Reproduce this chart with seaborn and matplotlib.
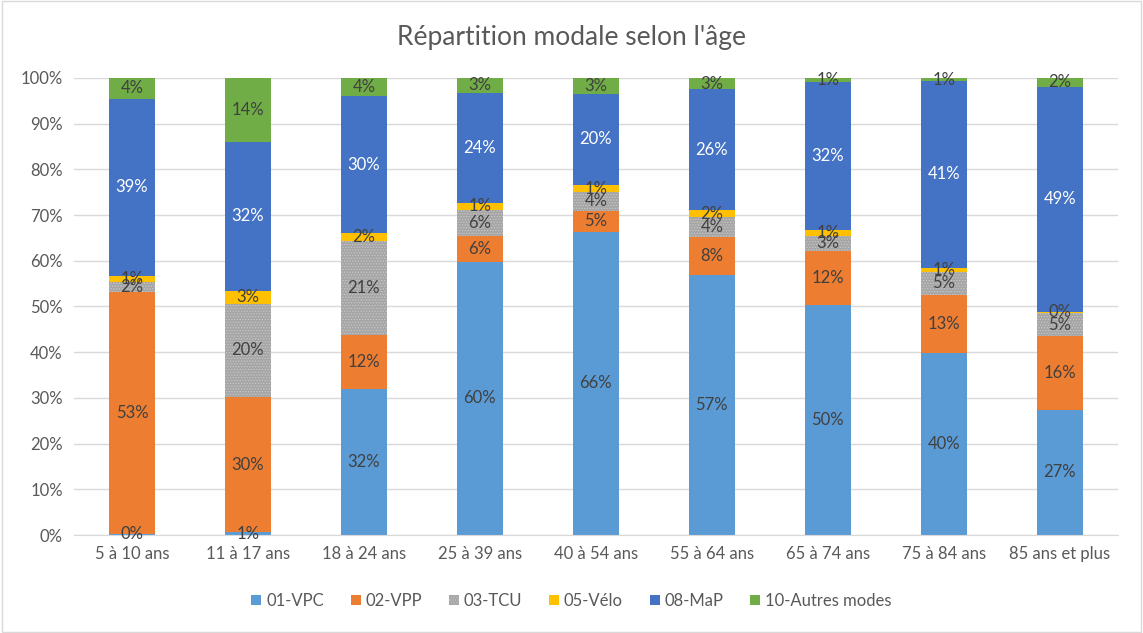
import numpy as np
import pandas as pd
import matplotlib
matplotlib.use("Agg")
import matplotlib.pyplot as plt
from matplotlib.patches import Rectangle
from matplotlib.ticker import PercentFormatter
import seaborn as sns

sns.set_style("white")
plt.rcParams["font.family"] = ["Lato", "DejaVu Sans"]
plt.rcParams["hatch.linewidth"] = 0.6

ages = ["5 à 10 ans", "11 à 17 ans", "18 à 24 ans", "25 à 39 ans", "40 à 54 ans",
        "55 à 64 ans", "65 à 74 ans", "75 à 84 ans", "85 ans et plus"]

vpc = [0.3, 0.6, 31.9, 59.8, 66.4, 57.0, 50.4, 39.8, 27.4]
vpp = [52.9, 29.6, 11.8, 5.7, 4.6, 8.3, 11.8, 12.8, 16.2]
tcu = [2.2, 20.4, 20.6, 5.7, 4.1, 4.2, 3.3, 4.9, 4.9]
velo = [1.2, 2.9, 1.8, 1.4, 1.4, 1.6, 1.3, 1.0, 0.4]
map_ = [38.9, 32.4, 29.9, 24.2, 20.1, 26.4, 32.3, 40.8, 49.2]
autres = [4.4, 14.1, 4.0, 3.2, 3.4, 2.6, 0.9, 0.7, 1.9]

modes = ["01-VPC", "02-VPP", "03-TCU", "05-Vélo", "08-MaP", "10-Autres modes"]
colors = ["#5B9BD5", "#ED7D31", "#A5A5A5", "#FFC000", "#4472C4", "#70AD47"]

df = pd.DataFrame({"age": ages, modes[0]: vpc, modes[1]: vpp, modes[2]: tcu,
                   modes[3]: velo, modes[4]: map_, modes[5]: autres})

fig = plt.figure(figsize=(11.43, 6.33), dpi=100)
ax = fig.add_axes([0.0647, 0.1548, 0.9133, 0.722])

bottom = np.zeros(len(ages))
for mode, col in zip(modes, colors):
    vals = df[mode].to_numpy()
    sns.barplot(x=df["age"], y=vals, bottom=bottom, color=col, saturation=1,
                width=0.4, label=mode, ax=ax, linewidth=0)
    cont = ax.containers[-1]
    if mode == "03-TCU":
        for b in cont:
            b.set_hatch("......")
            b.set_edgecolor("#C8C8C8")
            b.set_linewidth(0)
    txtcol = "white" if mode == "08-MaP" else "#404040"
    ax.bar_label(cont, labels=[f"{v:.0f}%" for v in vals], label_type="center",
                 color=txtcol, fontsize=12)
    bottom += vals

if ax.get_legend() is not None:
    ax.get_legend().remove()

ax.set_ylim(0, 100)
ax.set_xlim(-0.5, len(ages) - 0.5)
ax.set_yticks(np.arange(0, 101, 10))
ax.yaxis.set_major_formatter(PercentFormatter(decimals=0))
ax.grid(axis="y", color="#D9D9D9", linewidth=1)
ax.set_axisbelow(True)
for s in ["top", "right", "left"]:
    ax.spines[s].set_visible(False)
ax.spines["bottom"].set_color("#D9D9D9")
ax.tick_params(axis="both", length=0, labelsize=12, labelcolor="#595959", pad=8)
ax.set_xlabel("")
ax.set_ylabel("")

handles, labels = ax.get_legend_handles_labels()
leg = fig.legend(handles, labels, loc="center", bbox_to_anchor=(0.5, 1 - 601 / 633),
                 ncol=6, frameon=False, fontsize=12, handlelength=0.6, handleheight=0.6,
                 columnspacing=1.6, handletextpad=0.3)
for t in leg.get_texts():
    t.set_color("#595959")

fig.text(0.5, 1 - 37 / 633, "Répartition modale selon l'âge", ha="center", va="center",
         fontsize=19, color="#595959")

fig.patches.append(Rectangle((0.002, 0.002), 0.996, 0.996, transform=fig.transFigure,
                             fill=False, edgecolor="#D9D9D9", linewidth=1))

fig.savefig("out.png", dpi=100)
